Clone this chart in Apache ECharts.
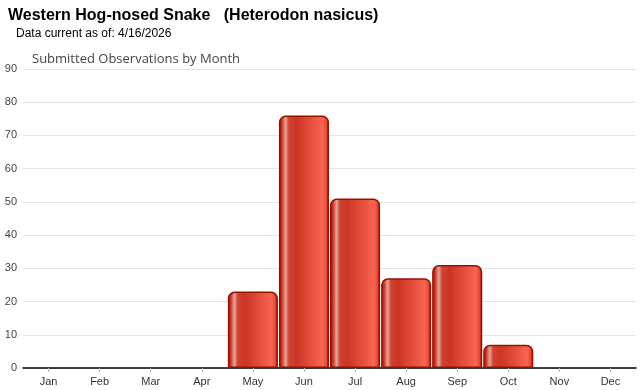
<!DOCTYPE html>
<html><head><meta charset="utf-8">
<script src="https://cdn.jsdelivr.net/npm/echarts@6/dist/echarts.min.js"></script>
<style>html,body{margin:0;padding:0;background:#fff}#c{width:640px;height:390px}</style>
</head><body><div id="c"></div>
<script>
const months = ['Jan','Feb','Mar','Apr','May','Jun','Jul','Aug','Sep','Oct','Nov','Dec'];
const observations = [0,0,0,0,23,76,51,27,31,7,0,0];
const yTicks = [0,10,20,30,40,50,60,70,80,90];

const chart = echarts.init(document.getElementById('c'), null, {renderer:'canvas'});
const grad = new echarts.graphic.LinearGradient(0,0,1,0,[
  {offset:0, color:'#a01404'},
  {offset:0.06, color:'#c83828'},
  {offset:0.13, color:'#e4a498'},
  {offset:0.2, color:'#d04232'},
  {offset:0.35, color:'#cc3424'},
  {offset:0.88, color:'#fa6452'},
  {offset:0.95, color:'#e04838'},
  {offset:1, color:'#a01000'}
]);
chart.setOption({
  animation:false,
  title:[
    {text:'Western Hog-nosed Snake   (Heterodon nasicus)', left:3, top:3,
     textStyle:{fontFamily:'Liberation Sans, Arial', fontWeight:'bold', fontSize:16, color:'#000'}},
    {text:'Data current as of: 4/16/2026', left:11, top:23,
     textStyle:{fontFamily:'Liberation Sans, Arial', fontWeight:'normal', fontSize:12, color:'#000'}},
    {text:'Submitted Observations by Month', left:27, top:48,
     textStyle:{fontFamily:'Open Sans, Liberation Sans', fontWeight:'normal', fontSize:13, color:'#444'}}
  ],
  grid:{left:23, right:4, top:69, bottom:22, containLabel:false},
  xAxis:{type:'category', data:months,
    axisLine:{lineStyle:{color:'#000', width:1.5}},
    axisTick:{show:true, alignWithLabel:true, length:4, lineStyle:{color:'#bbb'}},
    axisLabel:{color:'#333', fontSize:11, fontFamily:'Liberation Sans, Arial', margin:8}},
  yAxis:{type:'value', min:yTicks[0], max:yTicks[yTicks.length-1], interval:10,
    axisLine:{show:false}, axisTick:{show:false},
    axisLabel:{color:'#444', fontSize:11, fontFamily:'Liberation Sans, Arial', margin:6},
    splitLine:{lineStyle:{color:'#e4e4e4'}}},
  series:[{type:'bar', barCategoryGap:'2%',
    data:observations.map(v => v === 0 ? {value:v, itemStyle:{borderWidth:0, opacity:0}} : v),
    itemStyle:{color:grad, borderColor:'#9a1000', borderWidth:1.5, borderRadius:[6,6,0,0]}}]
});
</script></body></html>
